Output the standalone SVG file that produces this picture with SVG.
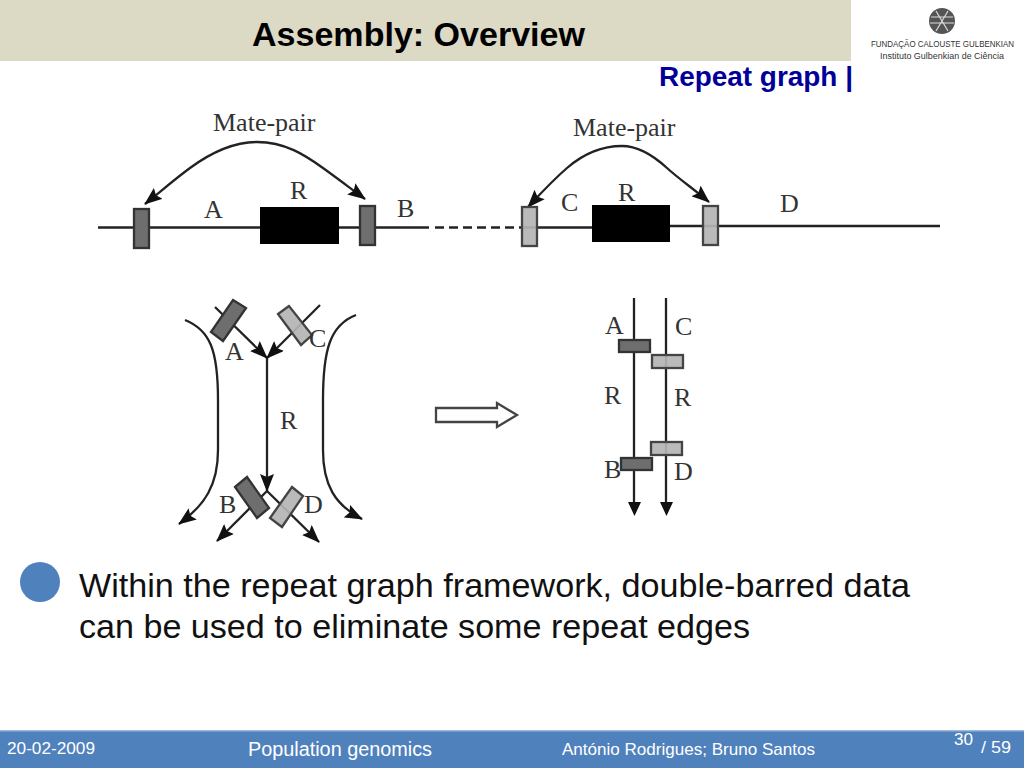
<svg xmlns="http://www.w3.org/2000/svg" width="1024" height="768" viewBox="0 0 1024 768">
<style>
.s{font-family:"Liberation Sans",Arial,sans-serif}
.t{font-family:"Liberation Serif","Times New Roman",serif;fill:#333}
.l{font-size:26px}
.ln{fill:none;stroke:#222;stroke-width:2.300}
.dk{fill:#6e6e6e;stroke:#333;stroke-width:2.300}
.lt{fill:#b4b4b4;fill-opacity:.92;stroke:#444;stroke-width:2.300}
.f{fill:#fff}
</style>
<defs>
<marker id="ah" viewBox="0 0 18 14" refX="17" refY="7" markerWidth="18" markerHeight="14" markerUnits="userSpaceOnUse" orient="auto"><path d="M0 0L18 7L0 14L3 7Z" fill="#111"/></marker>
</defs>
<rect width="1024" height="768" fill="#fff"/>
<g id="header">
<rect width="851" height="61" fill="#dcd9c5"/>
<text class="s" x="252" y="46" font-size="34" font-weight="bold" fill="#000" textLength="333" lengthAdjust="spacingAndGlyphs">Assembly: Overview</text>
<text class="s" x="659" y="86" font-size="27" font-weight="bold" fill="#000099" textLength="194" lengthAdjust="spacingAndGlyphs">Repeat graph |</text>
</g>
<g id="logo">
<circle cx="942" cy="21" r="13" fill="#555"/>
<path d="M931 17H953M930 23H954M936 11L948 31M948 11L936 31" stroke="#ddd" stroke-width="1.200" fill="none"/>
<text class="s" x="871" y="47" font-size="8.200" fill="#333" textLength="143" lengthAdjust="spacingAndGlyphs">FUNDAÇÃO CALOUSTE GULBENKIAN</text>
<text class="s" x="880" y="59" font-size="9.200" fill="#333" textLength="124" lengthAdjust="spacingAndGlyphs">Instituto Gulbenkian de Ciência</text>
</g>
<g id="connectors">
<path class="ln" d="M98 227.500H429"/>
<path class="ln" d="M435 227.500H520" stroke-dasharray="9 5"/>
<path class="ln" d="M520 227.500H592M670 226H940"/>
<path class="ln" marker-end="url(#ah)" d="M257 142C230 142 205 157 190 168S160 192 145 204"/>
<path class="ln" marker-end="url(#ah)" d="M257 142C285 142 305 155 323 168S350 188 365 199"/>
<path class="ln" marker-end="url(#ah)" d="M622 146C600 146 582 155 567 168S542 192 528 207"/>
<path class="ln" marker-end="url(#ah)" d="M622 146C640 146 655 157 667 168S695 190 709 202"/>
<path class="ln" marker-end="url(#ah)" d="M215 307L267 358"/>
<path class="ln" marker-end="url(#ah)" d="M320 305L267 358"/>
<path class="ln" marker-end="url(#ah)" d="M267 358V491"/>
<path class="ln" marker-end="url(#ah)" d="M267 491L217 541"/>
<path class="ln" marker-end="url(#ah)" d="M267 491L319 542"/>
<path class="ln" marker-end="url(#ah)" d="M185 320C210 330 218 350 218 400V450C218 485 205 505 179 524"/>
<path class="ln" marker-end="url(#ah)" d="M356 315C330 325 323 350 323 400V450C323 485 335 505 362 519"/>
<path class="ln" d="M634 298V504M666 298V504"/>
<path d="M628 502H641L634.500 516ZM660 502H673L666.500 516Z" fill="#111"/>
</g>
<g id="mate-pair-left">
<rect class="dk" x="134" y="209" width="15" height="39"/>
<rect x="260" y="207" width="79" height="37" fill="#000"/>
<rect class="dk" x="360" y="206" width="15" height="39"/>
<text class="t" x="213" y="131" font-size="26">Mate-pair</text>
<text class="t l" x="204" y="218">A</text>
<text class="t l" x="290" y="199">R</text>
<text class="t l" x="397" y="217">B</text>
</g>
<g id="mate-pair-right">
<rect class="lt" x="522" y="207" width="15" height="39"/>
<rect x="592" y="205" width="78" height="37" fill="#000"/>
<rect class="lt" x="703" y="206" width="15" height="39"/>
<text class="t" x="573" y="136" font-size="26">Mate-pair</text>
<text class="t l" x="561" y="211">C</text>
<text class="t l" x="618" y="201">R</text>
<text class="t l" x="780" y="212">D</text>
</g>
<g id="repeat-crossing">
<path class="dk" d="M233 300L246 308L223 341L211 332Z"/>
<path class="lt" d="M289 306L278 314L301 345L312 335Z"/>
<path class="dk" d="M247 477L235 487L257 518L269 508Z"/>
<path class="lt" d="M292 487L303 496L282 527L270 518Z"/>
<text class="t l" x="225" y="360">A</text>
<text class="t l" x="309" y="347">C</text>
<text class="t l" x="280" y="429">R</text>
<text class="t l" x="219" y="513">B</text>
<text class="t l" x="304" y="513">D</text>
</g>
<g id="transform-arrow">
<path d="M436 408H497V403L517 415L497 427V422H436Z" fill="#fff" stroke="#444" stroke-width="2.300"/>
</g>
<g id="resolved-paths">
<rect class="dk" x="619" y="340" width="31" height="12"/>
<rect class="lt" x="652" y="355" width="31" height="13"/>
<rect class="dk" x="621" y="458" width="31" height="12"/>
<rect class="lt" x="651" y="442" width="31" height="13"/>
<text class="t l" x="605" y="334">A</text>
<text class="t l" x="675" y="335">C</text>
<text class="t l" x="604" y="404">R</text>
<text class="t l" x="674" y="406">R</text>
<text class="t l" x="604" y="478">B</text>
<text class="t l" x="674" y="480">D</text>
</g>
<g id="bullet">
<circle cx="40" cy="582" r="20" fill="#4f81bd"/>
<text class="s" x="79" y="597" font-size="34" fill="#111" textLength="831" lengthAdjust="spacingAndGlyphs">Within the repeat graph framework, double-barred data</text>
<text class="s" x="79" y="638" font-size="34" fill="#111" textLength="671" lengthAdjust="spacingAndGlyphs">can be used to eliminate some repeat edges</text>
</g>
<g id="footer">
<rect y="730" width="1024" height="38" fill="#4f81bd"/>
<rect y="730" width="1024" height="1.500" fill="#9db8d8"/>
<text class="s f" x="7" y="754" font-size="17" textLength="88" lengthAdjust="spacingAndGlyphs">20-02-2009</text>
<text class="s f" x="248" y="756" font-size="20" textLength="184" lengthAdjust="spacingAndGlyphs">Population genomics</text>
<text class="s f" x="562" y="755" font-size="17" textLength="253" lengthAdjust="spacingAndGlyphs">António Rodrigues; Bruno Santos</text>
<text class="s f" x="954" y="745" font-size="17" textLength="19" lengthAdjust="spacingAndGlyphs">30</text>
<text class="s f" x="981" y="753" font-size="17" textLength="30" lengthAdjust="spacingAndGlyphs">/ 59</text>
</g>
</svg>
